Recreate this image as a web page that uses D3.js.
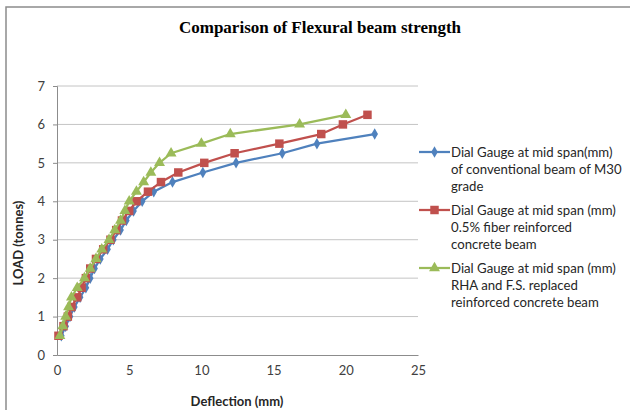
<!DOCTYPE html>
<html>
<head>
<meta charset="utf-8">
<script src="https://cdn.jsdelivr.net/npm/d3@7"></script>
<style>
	body { margin: 0; background: #fff; }
	svg { display: block; }
	.tick-label { font-family: Lato, "Open Sans", sans-serif; font-size: 13px; fill: #404040; }
	.axis-title { font-family: Lato, "Open Sans", sans-serif; font-size: 13px; font-weight: bold; fill: #262626; }
	.leg-text { font-family: Lato, "Open Sans", sans-serif; font-size: 13.2px; fill: #262626; }
</style>
</head>
<body>
<div id="container"></div>
<script>
// load steps (tonnes)
var loads = [0.5, 0.75, 1.0, 1.25, 1.5, 1.75, 2.0, 2.25, 2.5, 2.75, 3.0, 3.25, 3.5, 3.75, 4.0, 4.25, 4.5, 4.75, 5.0, 5.25, 5.5, 5.75, 6.0, 6.25];

// deflections (mm), one per load step
var conventionalDefl = [0.3, 0.6, 0.9, 1.2, 1.6, 2.0, 2.3, 2.6, 3.0, 3.5, 3.9, 4.4, 4.8, 5.3, 5.9, 6.7, 8.0, 10.1, 12.4, 15.6, 18.0, 22.0];
var fiberDefl = [0.1, 0.45, 0.75, 1.0, 1.4, 1.7, 2.0, 2.3, 2.7, 3.2, 3.7, 4.1, 4.5, 5.0, 5.5, 6.3, 7.2, 8.4, 10.2, 12.3, 15.4, 18.3, 19.8, 21.5];
var rhaDefl = [0.2, 0.4, 0.6, 0.8, 1.0, 1.4, 1.9, 2.3, 2.7, 3.1, 3.6, 4.0, 4.4, 4.7, 5.0, 5.5, 6.0, 6.5, 7.1, 7.9, 10.0, 12.0, 16.8, 20.0];

var xTicks = [0, 5, 10, 15, 20, 25];
var yTicks = [0, 1, 2, 3, 4, 5, 6, 7];

var seriesNames = [
	['Dial Gauge at mid span(mm)', 'of conventional beam of M30', 'grade'],
	['Dial Gauge at mid span (mm)', '0.5% fiber reinforced', 'concrete beam'],
	['Dial Gauge at mid span (mm)', 'RHA and F.S. replaced', 'reinforced concrete beam']
];
var seriesColors = ['#4F81BD', '#C0504D', '#9BBB59'];
var seriesShapes = [d3.symbolDiamond, d3.symbolSquare, d3.symbolTriangle];

var width = 630, height = 410;

var svg = d3.select('#container').append('svg')
	.attr('width', width)
	.attr('height', height);

// chart border (only top/left show in the picture)
svg.append('rect')
	.attr('x', 6).attr('y', 7)
	.attr('width', 700).attr('height', 500)
	.attr('fill', 'none')
	.attr('stroke', '#8c8c8c')
	.attr('stroke-width', 1.5);

var x = d3.scaleLinear().domain([0, 25]).range([57, 418]);
var y = d3.scaleLinear().domain([0, 7]).range([355, 86]);

//gridlines
svg.append('g').selectAll('line')
	.data(yTicks.slice(1))
	.enter().append('line')
	.attr('x1', x(0)).attr('x2', x(25))
	.attr('y1', d => y(d)).attr('y2', d => y(d))
	.attr('stroke', '#c4c4c4')
	.attr('stroke-width', 1);

// axes
var xAxis = svg.append('g')
	.attr('transform', 'translate(0,' + y(0) + ')')
	.call(d3.axisBottom(x).tickValues(xTicks).tickFormat(d3.format('d')).tickSize(0).tickPadding(11));
var yAxis = svg.append('g')
	.attr('transform', 'translate(' + x(0) + ',0)')
	.call(d3.axisLeft(y).tickValues(yTicks).tickFormat(d3.format('d')).tickSize(4).tickPadding(8));

[xAxis, yAxis].forEach(a => {
	a.select('.domain').attr('stroke', '#8c8c8c').attr('stroke-width', 1);
	a.selectAll('.tick line').attr('stroke', '#8c8c8c');
	a.selectAll('.tick text').attr('class', 'tick-label').attr('fill', null);
	a.attr('font-family', null).attr('font-size', null);
});

// series
var allDefl = [conventionalDefl, fiberDefl, rhaDefl];
var series = allDefl.map((defl, i) => defl.map((d, j) => ({x: d, y: loads[j]})));

var line = d3.line().x(d => x(d.x)).y(d => y(d.y));
var sizes = [38, 72, 52];

series.forEach((s, i) => {
	var g = svg.append('g');
	g.append('path')
		.attr('d', line(s))
		.attr('fill', 'none')
		.attr('stroke', seriesColors[i])
		.attr('stroke-width', 2.25)
		.attr('stroke-linejoin', 'round');
	g.selectAll('path.pt')
		.data(s)
		.enter().append('path')
		.attr('class', 'pt')
		.attr('transform', d => 'translate(' + x(d.x) + ',' + y(d.y) + ')')
		.attr('d', d3.symbol().type(seriesShapes[i]).size(sizes[i]))
		.attr('fill', seriesColors[i]);
});

// title
svg.append('text')
	.attr('x', 320).attr('y', 33)
	.attr('text-anchor', 'middle')
	.style('font-family', '"Liberation Serif", "Times New Roman", serif')
	.style('font-weight', 'bold')
	.style('font-size', '17px')
	.attr('fill', '#000')
	.text('Comparison of Flexural beam strength');

svg.append('text').attr('class', 'axis-title')
	.attr('x', 237).attr('y', 406)
	.attr('text-anchor', 'middle')
	.text('Deflection (mm)');

svg.append('text').attr('class', 'axis-title')
	.attr('transform', 'translate(23,243) rotate(-90)')
	.attr('text-anchor', 'middle')
	.text('LOAD (tonnes)');

// legend
var legY = [152, 210, 268];
seriesNames.forEach((lines, i) => {
	var lg = svg.append('g').attr('transform', 'translate(0,' + legY[i] + ')');
	lg.append('line')
		.attr('x1', 419).attr('x2', 450)
		.attr('y1', 0).attr('y2', 0)
		.attr('stroke', seriesColors[i])
		.attr('stroke-width', 2.25);
	lg.append('path')
		.attr('transform', 'translate(434.5,0)')
		.attr('d', d3.symbol().type(seriesShapes[i]).size(sizes[i]))
		.attr('fill', seriesColors[i]);
	lines.forEach((t, k) => {
		lg.append('text').attr('class', 'leg-text')
			.attr('x', 451).attr('y', 4.5 + k * 17)
			.text(t);
	});
});
</script>
</body>
</html>
